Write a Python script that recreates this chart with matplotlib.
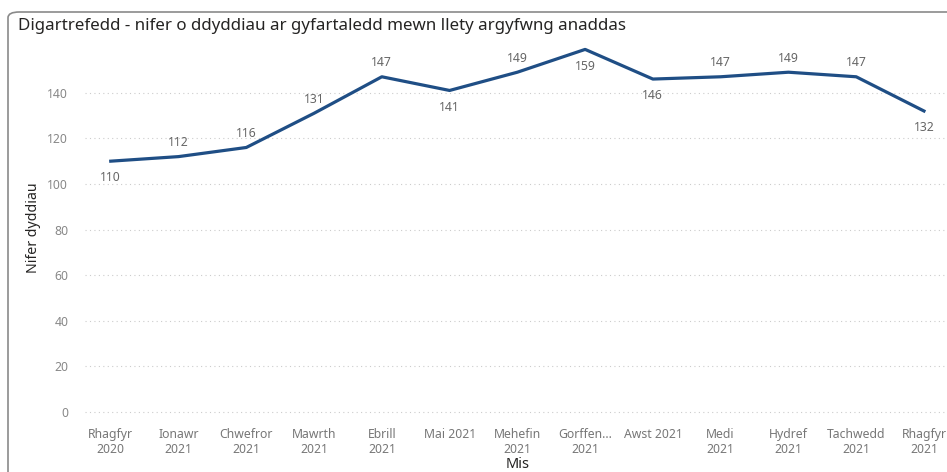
import matplotlib
matplotlib.use("Agg")
import matplotlib.pyplot as plt
from matplotlib.patches import FancyBboxPatch

# data
months = ["Rhagfyr\n2020", "Ionawr\n2021", "Chwefror\n2021", "Mawrth\n2021", "Ebrill\n2021",
          "Mai 2021", "Mehefin\n2021", "Gorffen...\n2021", "Awst 2021", "Medi\n2021",
          "Hydref\n2021", "Tachwedd\n2021", "Rhagfyr\n2021"]
days = [110, 112, 116, 131, 147, 141, 149, 159, 146, 147, 149, 147, 132]
label_below = [True, False, False, False, False, True, False, True, True, False, False, False, True]
yticks = [0, 20, 40, 60, 80, 100, 120, 140]

plt.rcParams['font.family'] = ['Noto Sans', 'DejaVu Sans']

fig = plt.figure(figsize=(9.47, 4.72), dpi=100)
ax = fig.add_axes([85 / 947, (472 - 418) / 472, (947 - 85) / 947, (418 - 38) / 472])

x = list(range(len(days)))
ax.plot(x, days, color='#1f4e85', lw=2.3, solid_joinstyle='round')

for xi, v, below in zip(x, days, label_below):
    off = -12 if below else 10
    ax.annotate(str(v), (xi, v), xytext=(0, off), textcoords='offset points',
                ha='center', va='center', fontsize=8.8, color='#666666')

ax.set_xlim(-0.38, 12.34)
ax.set_ylim(-2.6, 164)
ax.set_yticks(yticks)
ax.set_xticks(x)
ax.set_xticklabels(months, fontsize=8.8, color='#777777', linespacing=1.2)
ax.tick_params(axis='y', labelsize=8.8, labelcolor='#888888', length=0, pad=12)
ax.tick_params(axis='x', length=0, pad=7)
ax.grid(axis='y', color='#cccccc', linestyle=(0, (1, 3)), lw=0.8)
for s in ax.spines.values():
    s.set_visible(False)
ax.set_facecolor('none')

ax.set_ylabel('Nifer dyddiau', fontsize=10.2, color='#252423', labelpad=5)
fig.text(518 / 947, 1 - 465 / 472, 'Mis', ha='center', va='center', fontsize=10.5,
         color='#252423', fontweight='semibold')
fig.text(18 / 947, 1 - 26 / 472, 'Digartrefedd - nifer o ddyddiau ar gyfartaledd mewn llety argyfwng anaddas',
         ha='left', va='center', fontsize=12.2, color='#252423')

# card border
border = FancyBboxPatch((8 / 947, -0.1), 1.2, 1 - 12 / 472 + 0.1,
                        boxstyle='round,pad=0,rounding_size=0.012',
                        transform=fig.transFigure, fill=False,
                        edgecolor='#8a8a8a', lw=1.2, clip_on=False)
fig.patches.append(border)

fig.savefig('out.png', dpi=100)
